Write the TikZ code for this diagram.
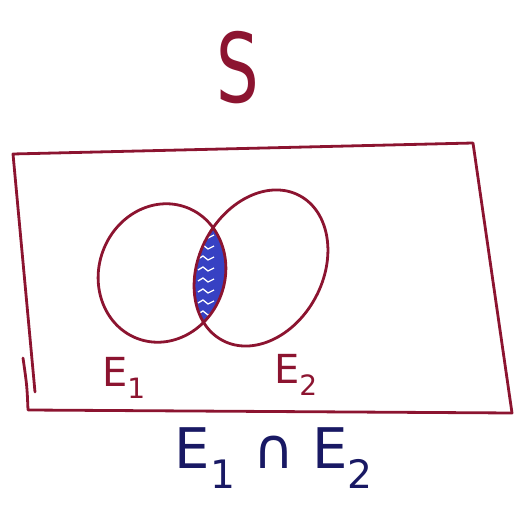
\documentclass[tikz,border=0pt]{standalone}
\usepackage{fontspec}
\setmainfont{DejaVu Sans}
\usepackage{tikz}
\usetikzlibrary{positioning}

\definecolor{penred}{RGB}{140,20,48}
\definecolor{penblue}{RGB}{55,65,195}
\definecolor{inkblue}{RGB}{25,25,100}

\begin{document}
\begin{tikzpicture}[
  x=1pt, y=1pt,
  outline/.style={draw=penred, line width=2.8pt, line join=round, line cap=round},
  setlabel/.style={text=penred, font=\fontsize{40}{40}\selectfont, inner sep=0pt},
  title/.style={text=penred, font=\fontsize{96}{96}\selectfont, inner sep=0pt, xscale=0.7},
  result/.style={text=inkblue, font=\fontsize{56}{56}\selectfont, inner sep=0pt}
]
\useasboundingbox (0,0) rectangle (517,506);

% sample space
\draw[outline] (35,114) -- (13,352) -- (473,363) -- (512,93) -- (28,96)
  .. controls (27,120) .. (23,148);

% shaded part E1 and E2
\begin{scope}
  \clip[rotate around={70:(162,233)}] (162,233) ellipse [x radius=70, y radius=63];
  \fill[penblue, rotate around={62:(261,238)}] (261,238) ellipse [x radius=82, y radius=62];
  \foreach \yy in {192,203,...,280}
    \draw[white, line width=1.3pt] (198,\yy) -- (203,\yy+3) -- (208,\yy-1) -- (214,\yy+2);
\end{scope}

% the two events
\draw[outline, rotate around={70:(162,233)}] (162,233) ellipse [x radius=70, y radius=63];
\draw[outline, rotate around={62:(261,238)}] (261,238) ellipse [x radius=82, y radius=62];

\node[title]    (s)   at (238,438) {S};
\node[setlabel] (la)  at (124,128) {E\textsubscript{1}};
\node[setlabel] (lb)  at (296,131) {E\textsubscript{2}};
\node[result]   (cap) at (274,48)  {E\textsubscript{1} ∩ E\textsubscript{2}};
\end{tikzpicture}
\end{document}
